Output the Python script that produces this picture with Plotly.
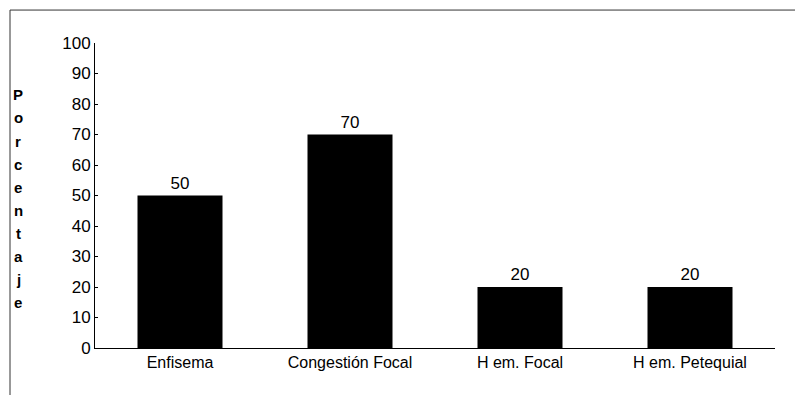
import plotly.graph_objects as go

# Porcentaje de lesiones pulmonares por tipo
categorias = ["Enfisema", "Congestión Focal", "H em. Focal", "H em. Petequial"]
porcentajes = [50, 70, 20, 20]
ticks_y = [0, 10, 20, 30, 40, 50, 60, 70, 80, 90, 100]
titulo_y = "Porcentaje"

FONT = "Liberation Sans, Arial, sans-serif"

fig = go.Figure()
fig.add_trace(go.Bar(
    x=categorias,
    y=porcentajes,
    width=0.5,
    marker=dict(color="black", line=dict(width=0)),
    text=[str(v) for v in porcentajes],
    textposition="outside",
    textfont=dict(family=FONT, size=17, color="black"),
    cliponaxis=False,
))

# vertical stacked letters for the y-axis title
n = len(titulo_y)
y_top, y_bot = 0.83, 0.148
for i, ch in enumerate(titulo_y):
    fig.add_annotation(
        x=0, xref="paper", xshift=-77,
        y=y_top - i * (y_top - y_bot) / (n - 1), yref="paper",
        text="<b>" + ch + "</b>", showarrow=False,
        font=dict(family=FONT, size=15, color="black"),
        xanchor="center", yanchor="middle",
    )

# outer frame: top and left edges
fig.add_shape(type="line", xref="paper", yref="paper",
              x0=-0.125, x1=1.1, y0=1.108, y1=1.108,
              line=dict(color="#333333", width=1))
fig.add_shape(type="line", xref="paper", yref="paper",
              x0=-0.125, x1=-0.125, y0=1.108, y1=-0.2,
              line=dict(color="#333333", width=1))

fig.update_layout(
    width=795, height=395,
    margin=dict(l=95, r=20, t=43, b=47),
    paper_bgcolor="white", plot_bgcolor="white",
    showlegend=False,
    bargap=0.5,
    font=dict(family=FONT, color="black"),
)
fig.update_xaxes(
    showline=True, linecolor="black", linewidth=1,
    ticks="", showgrid=False, zeroline=False,
    tickfont=dict(family=FONT, size=16, color="black"),
    ticklabelstandoff=0,
)
fig.update_yaxes(
    range=[0, 100], tickvals=ticks_y, ticktext=[str(t) for t in ticks_y],
    showline=True, linecolor="black", linewidth=1,
    ticks="inside", ticklen=3, tickcolor="black",
    showgrid=False, zeroline=False,
    tickfont=dict(family=FONT, size=17, color="black"),
    ticklabelstandoff=0,
)

fig.write_html("out.html")
